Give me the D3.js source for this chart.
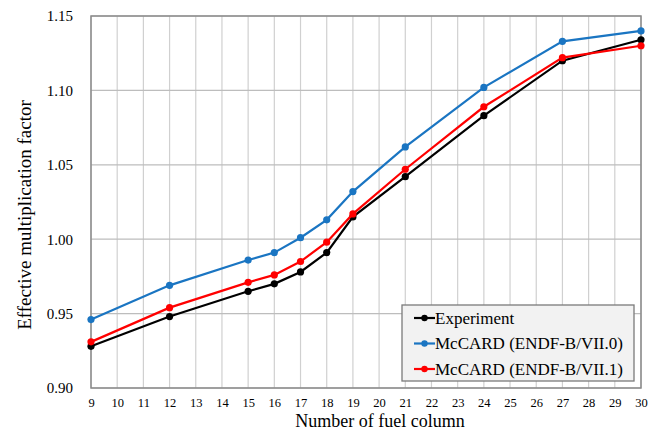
<!DOCTYPE html>
<html>
<head>
<meta charset="utf-8">
<script src="https://cdn.jsdelivr.net/npm/d3@7"></script>
<style>
  body { margin: 0; background: #fff; }
  svg text { font-family: "Liberation Serif", "Times New Roman", serif; fill: #000; }
</style>
</head>
<body>
<div id="chart"></div>
<script>
// values
const columns = [9, 12, 15, 16, 17, 18, 19, 21, 24, 27, 30];
const experiment = [0.928, 0.948, 0.965, 0.970, 0.978, 0.991, 1.015, 1.042, 1.083, 1.120, 1.134];
const mccard70 = [0.946, 0.969, 0.986, 0.991, 1.001, 1.013, 1.032, 1.062, 1.102, 1.133, 1.140];
const mccard71 = [0.931, 0.954, 0.971, 0.976, 0.985, 0.998, 1.017, 1.047, 1.089, 1.122, 1.130];
const seriesNames = ["Experiment", "McCARD (ENDF-B/VII.0)", "McCARD (ENDF-B/VII.1)"];
const seriesColors = ["#000000", "#1a75c2", "#ff0000"];
const yTicks = [0.90, 0.95, 1.00, 1.05, 1.10, 1.15];
const xTicks = d3.range(9, 31);

const width = 658, height = 430;
const margin = {top: 16, right: 17, bottom: 42, left: 91};
const innerW = width - margin.left - margin.right;
const innerH = height - margin.top - margin.bottom;

const svg = d3.select("#chart").append("svg")
  .attr("width", width)
  .attr("height", height);

const x = d3.scaleLinear().domain([9, 30]).range([margin.left, margin.left + innerW]);
const y = d3.scaleLinear().domain([0.90, 1.15]).range([margin.top + innerH, margin.top]);

//gridlines
const grid = svg.append("g").attr("class", "grid");
grid.selectAll("line.v")
  .data(xTicks)
  .enter().append("line")
    .attr("class", "v")
    .attr("x1", d => x(d)).attr("x2", d => x(d))
    .attr("y1", margin.top).attr("y2", margin.top + innerH)
    .attr("stroke", "#d0d0d0").attr("stroke-width", 1.2);
grid.selectAll("line.h")
  .data(yTicks)
  .enter().append("line")
    .attr("class", "h")
    .attr("x1", margin.left).attr("x2", margin.left + innerW)
    .attr("y1", d => y(d)).attr("y2", d => y(d))
    .attr("stroke", "#bdbdbd").attr("stroke-width", 1.2);

//plot frame
svg.append("rect")
  .attr("x", margin.left).attr("y", margin.top)
  .attr("width", innerW).attr("height", innerH)
  .attr("fill", "none").attr("stroke", "#8a8a8a").attr("stroke-width", 1.5);

//axes
const xAxis = svg.append("g")
  .attr("transform", "translate(0," + (margin.top + innerH) + ")")
  .call(d3.axisBottom(x).tickValues(xTicks).tickSize(0).tickPadding(10).tickFormat(d3.format("d")));
xAxis.select(".domain").remove();
xAxis.selectAll("text").attr("font-size", "12.5px").attr("font-family", "Liberation Serif");

const yAxis = svg.append("g")
  .attr("transform", "translate(" + margin.left + ",0)")
  .call(d3.axisLeft(y).tickValues(yTicks).tickSize(0).tickPadding(18).tickFormat(d3.format(".2f")));
yAxis.select(".domain").remove();
yAxis.selectAll("text").attr("font-size", "15px").attr("font-family", "Liberation Serif");

//axis titles
svg.append("text")
  .attr("x", 380)
  .attr("y", 427)
  .attr("text-anchor", "middle")
  .attr("font-size", "18px")
  .text("Number of fuel column");

svg.append("text")
  .attr("transform", "translate(31,215) rotate(-90)")
  .attr("text-anchor", "middle")
  .attr("font-size", "19px")
  .text("Effective multiplication factor");

//series
const allSeries = [experiment, mccard70, mccard71].map((vals, i) => ({
  name: seriesNames[i],
  color: seriesColors[i],
  points: columns.map((c, j) => ({x: c, y: vals[j]}))
}));

const line = d3.line().x(d => x(d.x)).y(d => y(d.y));

const sg = svg.append("g").attr("class", "series")
  .selectAll("g")
  .data(allSeries)
  .enter().append("g");

sg.append("path")
  .attr("d", d => line(d.points))
  .attr("fill", "none")
  .attr("stroke", d => d.color)
  .attr("stroke-width", 2.2);

sg.selectAll("circle")
  .data(d => d.points.map(p => ({p: p, color: d.color})))
  .enter().append("circle")
    .attr("cx", d => x(d.p.x))
    .attr("cy", d => y(d.p.y))
    .attr("r", 3.6)
    .attr("fill", d => d.color);

//legend
const legend = svg.append("g").attr("transform", "translate(402,305)");
legend.append("rect")
  .attr("width", 232).attr("height", 76)
  .attr("fill", "#f2f2f2").attr("stroke", "#7a7a7a").attr("stroke-width", 1.3);

const item = legend.selectAll("g.item")
  .data(allSeries)
  .enter().append("g")
    .attr("class", "item")
    .attr("transform", (d, i) => "translate(0," + (13 + i * 25.5) + ")");
item.append("line")
  .attr("x1", 12).attr("x2", 33)
  .attr("stroke", d => d.color).attr("stroke-width", 2.2);
item.append("circle")
  .attr("cx", 22.5).attr("r", 3.2)
  .attr("fill", d => d.color);
item.append("text")
  .attr("x", 33).attr("dy", "0.35em")
  .attr("font-size", "17px")
  .text(d => d.name);
</script>
</body>
</html>
